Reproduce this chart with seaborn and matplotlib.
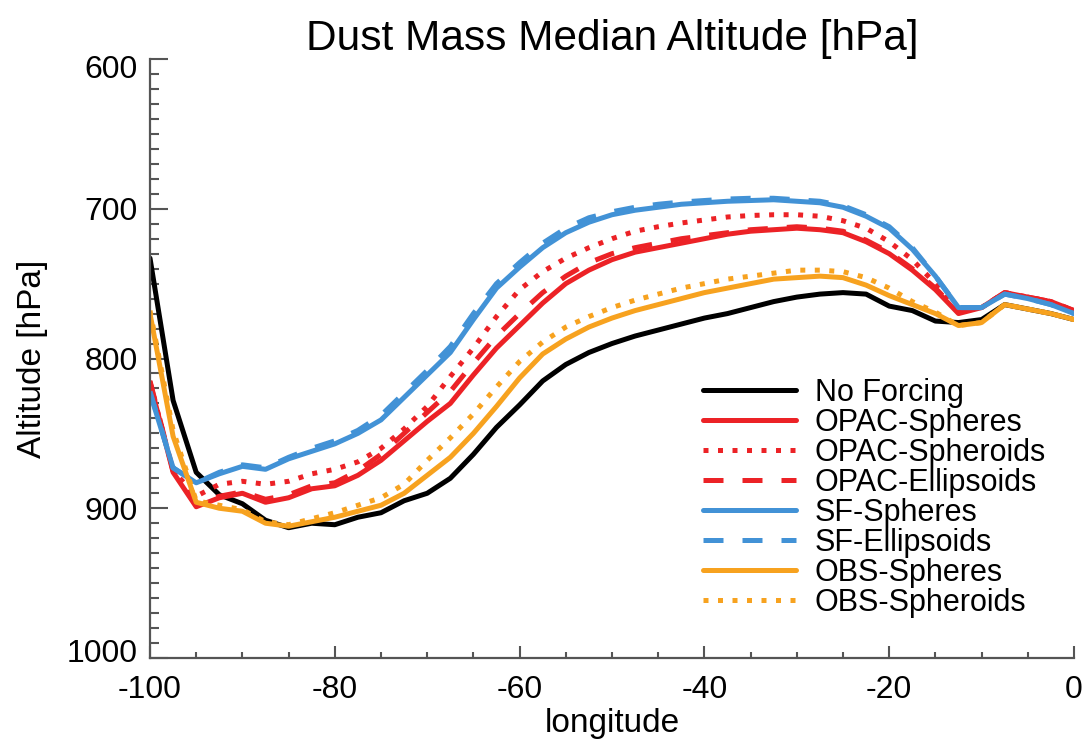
import numpy as np
import pandas as pd
import matplotlib
matplotlib.use("Agg")
import matplotlib.pyplot as plt
import matplotlib.transforms as mtransforms
import seaborn as sns
from matplotlib.ticker import MultipleLocator

# ---- data -------------------------------------------------------------
longitude = [-100, -97.5, -95, -92.5, -90, -87.5, -85, -82.5, -80, -77.5,
             -75, -72.5, -70, -67.5, -65, -62.5, -60, -57.5, -55, -52.5,
             -50, -47.5, -45, -42.5, -40, -37.5, -35, -32.5, -30, -27.5,
             -25, -22.5, -20, -17.5, -15, -12.5, -10, -7.5, -5, -2.5, 0]

no_forcing = [733, 828, 876, 891, 897, 908, 913, 910, 911, 906,
              903, 895, 890, 880, 864, 846, 831, 815, 804, 796,
              790, 785, 781, 777, 773, 770, 766, 762, 759, 757,
              756, 757, 765, 768, 775, 776, 774, 764, 767, 770, 774]

opac_spheres = [816, 876, 899, 893, 890, 896, 893, 887, 885, 878,
                868, 855, 842, 830, 811, 793, 778, 763, 750, 741,
                734, 729, 726, 723, 720, 717, 715, 714, 713, 714,
                716, 722, 730, 741, 754, 770, 766, 756, 759, 762, 768]

opac_spheroids = [816, 875, 892, 884, 882, 884, 882, 877, 874, 869,
                  860, 847, 832, 812, 793, 772, 754, 742, 733, 726,
                  720, 715, 712, 709.5, 707.5, 705.5, 704.5, 704, 704, 705,
                  708, 713, 722, 734, 750, 768, 766, 756, 759, 762, 768]

opac_ellipsoids = [815, 875, 898, 892, 889, 894, 891, 885, 883, 875,
                   864, 850, 836, 822, 803, 785, 770, 756, 745, 736,
                   730, 726, 723, 720, 718, 716, 714, 713, 712, 713,
                   715, 721, 729, 740, 753, 769, 766, 756, 759, 762, 768]

sf_spheres = [823, 873, 883, 877, 872, 874, 867, 862, 857, 850,
              841, 826, 811, 796, 774, 753, 739, 726, 716, 709,
              704, 701, 699, 697, 696, 695, 694.5, 694, 695, 696,
              699, 705, 713, 727, 745, 766, 766, 757, 760, 764, 770]

sf_ellipsoids = [822, 873, 883, 876, 871, 873, 866, 860, 855, 848,
                 838, 823, 808, 792, 770, 750, 736, 723, 713, 706,
                 702, 699, 697, 695.5, 694.5, 693.5, 693, 693, 694, 695,
                 698, 704, 712, 726, 745, 766, 766, 757, 760, 764, 770]

obs_spheres = [770, 852, 896, 900, 902, 910, 912, 909, 906, 902,
               898, 890, 878, 866, 850, 832, 813, 797, 787, 779,
               773, 768, 764, 760, 756, 753, 750, 747, 746, 745,
               746, 751, 758, 764, 770, 778, 776, 764, 767, 770, 774]

obs_spheroids = [768, 848, 895, 898, 901, 909, 911, 907, 903, 898,
                 893, 884, 868, 853, 837, 819, 802, 789, 779, 772,
                 766, 761, 757, 753, 750, 747, 745, 743, 741, 741,
                 742, 746, 753, 762, 769, 778, 776, 764, 767, 770, 774]

series_names = ["No Forcing", "OPAC-Spheres", "OPAC-Spheroids", "OPAC-Ellipsoids",
                "SF-Spheres", "SF-Ellipsoids", "OBS-Spheres", "OBS-Spheroids"]
series_values = [no_forcing, opac_spheres, opac_spheroids, opac_ellipsoids,
                 sf_spheres, sf_ellipsoids, obs_spheres, obs_spheroids]

# ---- styles -----------------------------------------------------------
BLACK = "#000000"
RED = "#EC2226"
BLUE = "#4292D6"
ORANGE = "#F7A21F"
DOT = (0, (1.0, 1.9))
DASH = (0, (4.0, 3.8))
styles = [(BLACK, "-"), (RED, "-"), (RED, DOT), (RED, DASH),
          (BLUE, "-"), (BLUE, DASH), (ORANGE, "-"), (ORANGE, DOT)]

sns.set_theme(style="white")
plt.rcParams["font.family"] = ["Liberation Sans", "DejaVu Sans"]
plt.rcParams["axes.unicode_minus"] = False

W, H = 1086, 749
fig = plt.figure(figsize=(W / 100, H / 100), dpi=100)
ax_l, ax_r, ax_t, ax_b = 150, 1074, 59, 658
ax = fig.add_axes([ax_l / W, 1 - ax_b / H, (ax_r - ax_l) / W, (ax_b - ax_t) / H])

for name, vals, (col, ls) in zip(series_names, series_values, styles):
    df = pd.DataFrame({"longitude": longitude, "altitude": vals})
    sns.lineplot(data=df, x="longitude", y="altitude", ax=ax, color=col,
                 linestyle=ls, linewidth=3.6, label=name, estimator=None,
                 sort=False)

ax.set_xlim(-100, 0)
ax.set_ylim(1000, 600)
ax.xaxis.set_major_locator(MultipleLocator(20))
ax.xaxis.set_minor_locator(MultipleLocator(5))
ax.yaxis.set_major_locator(MultipleLocator(100))
ax.yaxis.set_minor_locator(MultipleLocator(10))

axcol = "#555555"
for side in ["top", "right"]:
    ax.spines[side].set_visible(False)
for side in ["left", "bottom"]:
    ax.spines[side].set_visible(True)
    ax.spines[side].set_color(axcol)
    ax.spines[side].set_linewidth(1.6)

ax.tick_params(axis="y", which="major", direction="in", length=13, width=1.5,
               color=axcol, labelsize=23, pad=9, left=True, labelcolor="black")
ax.tick_params(axis="y", which="minor", direction="in", length=6.5, width=1.5,
               color=axcol, left=True)
ax.tick_params(axis="x", which="major", direction="in", length=9, width=1.5,
               color=axcol, labelsize=23, pad=12, bottom=True, labelcolor="black")
ax.tick_params(axis="x", which="minor", direction="in", length=4.5, width=1.5,
               color=axcol, bottom=True)
ax.grid(False)

ax.set_title("Dust Mass Median Altitude [hPa]", fontsize=30.5, pad=4, color="black")
ax.set_xlabel("longitude", fontsize=24, color="black")
ax.set_ylabel("Altitude [hPa]", fontsize=24, color="black")
ax.xaxis.set_label_coords(0.5, (ax_b - 708) / (ax_b - ax_t))
ax.yaxis.set_label_coords((48 - ax_l) / (ax_r - ax_l), 0.5)

leg = ax.legend(loc="upper left",
                bbox_to_anchor=((703 - ax_l) / (ax_r - ax_l), (ax_b - 378) / (ax_b - ax_t)),
                frameon=False, fontsize=22, handlelength=3.05, handletextpad=0.6,
                labelspacing=0.0, borderpad=0, borderaxespad=0)
for t in leg.get_texts():
    t.set_color("black")

# IDL-style: end labels nudged inside the axis range
fig.canvas.draw()
yticks = ax.yaxis.get_major_ticks()
for tk, lab in zip(yticks, ax.get_yticks()):
    if abs(lab - 600) < 1e-6:
        tk.label1.set_transform(tk.label1.get_transform() +
                                mtransforms.ScaledTranslation(0, -7 / 100, fig.dpi_scale_trans))
    elif abs(lab - 1000) < 1e-6:
        tk.label1.set_transform(tk.label1.get_transform() +
                                mtransforms.ScaledTranslation(0, 8 / 100, fig.dpi_scale_trans))

fig.savefig("out.png", dpi=100)
